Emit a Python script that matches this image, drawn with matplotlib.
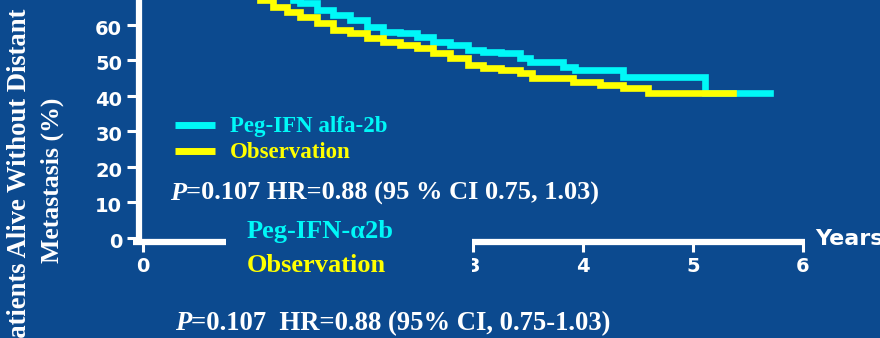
import matplotlib
matplotlib.use("Agg")
import matplotlib.pyplot as plt
from matplotlib.patches import Rectangle

# ---------------- data ----------------
peg_time = [0, 0.5, 1.0, 1.25, 1.36, 1.43, 1.58, 1.73, 1.88, 2.04, 2.18, 2.34, 2.49,
            2.64, 2.79, 2.95, 3.09, 3.25, 3.43, 3.52, 3.82, 3.93, 4.36, 5.11, 5.70]
peg_surv = [100, 85, 74, 69.5, 67.0, 66.2, 64.2, 62.8, 61.4, 59.4, 58.0, 57.7, 56.6,
            55.2, 54.4, 53.0, 52.4, 52.1, 50.7, 49.6, 48.2, 47.3, 45.4, 40.8, 40.8]

obs_time = [0, 0.3, 0.6, 0.9, 1.06, 1.18, 1.31, 1.43, 1.58, 1.73, 1.88, 2.04, 2.18,
            2.34, 2.49, 2.64, 2.79, 2.95, 3.09, 3.25, 3.43, 3.54, 3.91, 4.15, 4.36,
            4.59, 5.36]
obs_surv = [100, 90, 80, 71, 67.0, 65.1, 63.7, 62.3, 60.6, 58.6, 57.7, 56.3, 55.2,
            54.4, 53.5, 52.1, 50.7, 48.7, 47.9, 47.3, 46.5, 45.1, 43.9, 43.1, 42.3,
            40.8, 40.8]

y_ticks = [0, 10, 20, 30, 40, 50, 60, 70]
y_tick_labels = ["0", "10", "20", "30", "40", "50", "60", "70"]
x_ticks = [0, 1, 2, 3, 4, 5, 6]
x_tick_labels = ["0", "", "", "3", "4", "5", "6"]   # 1 and 2 are hidden under the text box

legend_labels = ["Peg-IFN alfa-2b", "Observation"]
box_labels = ["Peg-IFN-\u03b12b", "Observation"]
stat_inner = "=0.107 HR=0.88 (95 % CI 0.75, 1.03)"
stat_bottom = "=0.107  HR=0.88 (95% CI, 0.75-1.03)"
y_label_lines = ["Patients Alive Without Distant", "Metastasis (%)"]
x_label = "Years"

# ---------------- style ----------------
BG = "#0c4a8f"
CYAN = "#00f8f8"
YELLOW = "#ffff00"
WHITE = "#ffffff"
SERIF = ["Liberation Serif", "DejaVu Serif"]
SANS = ["DejaVu Sans"]

fig = plt.figure(figsize=(8.8, 3.38), dpi=100, facecolor=BG)
ax = fig.add_axes([0, 0, 1, 1])
ax.set_facecolor(BG)
ax.set_xlim(-1.30, 6.70)
ax.set_ylim(-28.17, 67.04)
ax.axis("off")

# survival curves
ax.step(peg_time, peg_surv, where="post", color=CYAN, lw=4.8, zorder=3,
        solid_joinstyle="miter")
ax.step(obs_time, obs_surv, where="post", color=YELLOW, lw=4.8, zorder=4,
        solid_joinstyle="miter")

# axes lines
ax.plot([-0.032, -0.032], [-2.0, 75], color=WHITE, lw=4.5, solid_capstyle="butt", zorder=2)
ax.plot([-0.09, 6.02], [-1.0, -1.0], color=WHITE, lw=4.5, solid_capstyle="butt", zorder=2)
for v, lab in zip(y_ticks, y_tick_labels):
    ax.plot([-0.145, -0.032], [v, v], color=WHITE, lw=2.2, solid_capstyle="butt", zorder=2)
    ax.text(-0.19, v - 0.6, lab, ha="right", va="center_baseline", color=WHITE,
            fontsize=14, fontweight="bold", family=SANS)
for v, lab in zip(x_ticks, x_tick_labels):
    ax.plot([v, v], [-1.0, -4.0], color=WHITE, lw=2.2, solid_capstyle="butt", zorder=2)
    if lab:
        ax.text(v, -5.3, lab, ha="center", va="top", color=WHITE,
                fontsize=14, fontweight="bold", family=SANS)
ax.text(6.11, -2.0, x_label, ha="left", va="baseline", color=WHITE,
        fontsize=16, fontweight="bold", family=SANS)

# y label (two lines, first one runs past the bottom edge as in the slide)
ax.text(-1.127, 64.5, y_label_lines[0], rotation=90, ha="center", va="top",
        color=WHITE, fontsize=19.2, fontweight="bold", family=SERIF)
ax.text(-0.827, 16.3, y_label_lines[1], rotation=90, ha="center", va="center",
        color=WHITE, fontsize=18.5, fontweight="bold", family=SERIF)

# in-plot legend
ax.plot([0.29, 0.655], [31.8, 31.8], color=CYAN, lw=5, solid_capstyle="butt")
ax.plot([0.29, 0.655], [24.5, 24.5], color=YELLOW, lw=5, solid_capstyle="butt")
ax.text(0.79, 29.9, legend_labels[0], color=CYAN, fontsize=16.5, fontweight="bold",
        family=SERIF, va="baseline")
ax.text(0.79, 22.5, legend_labels[1], color=YELLOW, fontsize=16.5, fontweight="bold",
        family=SERIF, va="baseline")

# in-plot statistics
p1 = ax.text(0.245, 10.7, "P", color=WHITE, fontsize=19, fontweight="bold",
             style="italic", family=SERIF, va="baseline")
ax.annotate(stat_inner, xy=(1, 0), xycoords=p1, va="bottom", ha="left",
            color=WHITE, fontsize=19, fontweight="bold", family=SERIF)

# overlaid slide text box (covers part of the x axis)
ax.add_patch(Rectangle((0.755, -13.2), 2.995 - 0.755, 6.5 + 13.2, facecolor=BG,
                       edgecolor="none", zorder=5))
ax.text(0.945, 0.0, box_labels[0], color=CYAN, fontsize=19, fontweight="bold",
        family=SERIF, va="baseline", zorder=6)
ax.text(0.945, -9.6, box_labels[1], color=YELLOW, fontsize=19, fontweight="bold",
        family=SERIF, va="baseline", zorder=6)

# bottom statistics line
p2 = ax.text(0.29, -25.9, "P", color=WHITE, fontsize=19.2, fontweight="bold",
             style="italic", family=SERIF, va="baseline")
ax.annotate(stat_bottom, xy=(1, 0), xycoords=p2, va="bottom", ha="left",
            color=WHITE, fontsize=19.2, fontweight="bold", family=SERIF)

fig.savefig("out.png", dpi=100, facecolor=BG)
